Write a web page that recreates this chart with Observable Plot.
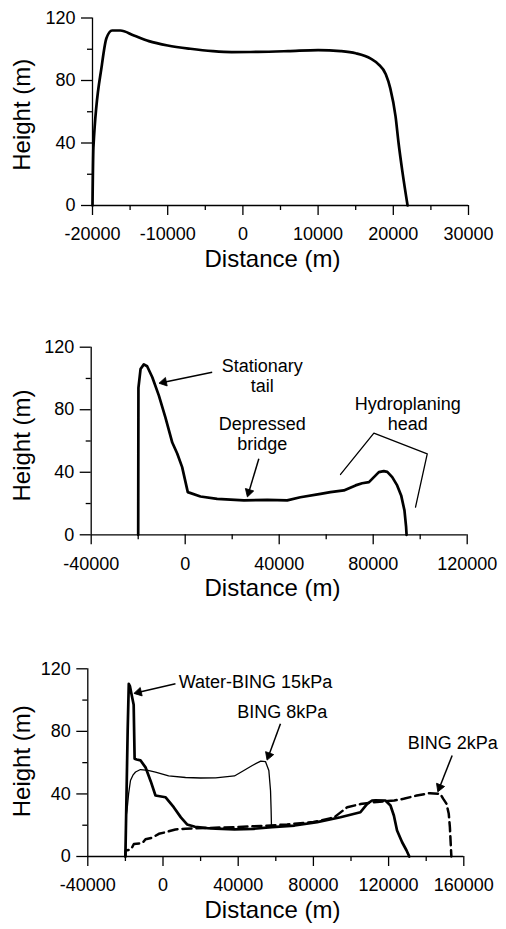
<!DOCTYPE html>
<html>
<head>
<meta charset="utf-8">
<script src="https://cdn.jsdelivr.net/npm/d3@7"></script>
<script src="https://cdn.jsdelivr.net/npm/@observablehq/plot@0.6"></script>
<style>
  html, body { margin: 0; padding: 0; background: #fff; }
  #chart svg { display: block; }
</style>
</head>
<body>
<div id="chart"></div>
<script>
// ---------- Axis labels / ticks ----------
const xTitle = "Distance (m)";
const yTitle = "Height (m)";
const yMajor = [0, 40, 80, 120];
const yMinor = [20, 60, 100];

const p1XMajor = [-20000, -10000, 0, 10000, 20000, 30000];
const p1XMinor = [-15000, -5000, 5000, 15000, 25000];
const p2XMajor = [-40000, 0, 40000, 80000, 120000];
const p2XMinor = [-20000, 20000, 60000, 100000];
const p3XMajor = [-40000, 0, 40000, 80000, 120000, 160000];
const p3XMinor = [-20000, 20000, 60000, 100000, 140000];

// ---------- Panel 1 profile ----------
const p1Dist = [-20000, -19880, -18750, -18150, -17400, -16300, -14500, -12500, -10000, -7000, -4000, -1500, 2000, 6000, 10000, 13000, 15000, 17000, 18000, 19000, 19600, 20300, 20700, 21200, 21900];
const p1Height = [0, 37, 90, 107, 112, 112, 108.8, 105.2, 102.4, 100.3, 98.8, 98.2, 98.3, 98.8, 99.5, 98.8, 97.4, 94, 90.5, 84, 75, 57, 40, 22, 0];

// ---------- Panel 2 profile ----------
const p2Dist = [-20000, -19900, -19000, -17600, -16200, -14000, -11200, -8400, -5500, -3400, -1300, 1100, 6500, 13600, 25000, 34900, 43400, 49000, 57600, 61800, 67500, 72500, 75300, 78200, 80300, 82400, 84500, 86000, 88100, 90200, 91900, 93300, 94000, 94200];
const p2Height = [0, 94, 106, 109, 107.8, 100.8, 89, 75, 59, 52, 43.3, 27.3, 24.5, 23, 22, 22.4, 22, 24, 26.2, 27.3, 28.4, 31.6, 33, 33.7, 36.9, 40.1, 40.7, 40.3, 36.9, 31.6, 25.2, 15.6, 5, 0];

// Panel 2 annotations
const p2Labels = ["Stationary\ntail", "Depressed\nbridge", "Hydroplaning\nhead"];
const p2LabelX = [32770, 32770, 94730];
const p2LabelY = [102, 64.8, 77.6];
const p2ArrowX1 = [11490, 31330];
const p2ArrowY1 = [104, 48.6];
const p2ArrowX2 = [-9080, 27070];
const p2ArrowY2 = [97.6, 27.3];
const p2BracketX = [66100, 80290, 103000, 98010];
const p2BracketY = [38.6, 65.0, 51.8, 17.7];

// ---------- Panel 3 profiles ----------
const waterBingDist = [-20000, -19400, -18800, -18200, -17600, -16800, -15600, -15100, -14000, -12000, -9300, -6500, -4000, 1300, 5700, 9500, 12800, 17000, 23500, 28000, 38000, 48000, 58000, 70000, 82000, 94400, 105000, 108600, 111200, 113000, 118300, 121000, 122800, 124500, 127200, 129500, 131000];
const waterBingHeight = [0, 40, 80, 110.4, 109, 104, 97, 62.5, 62, 61.5, 57, 48, 39, 37.9, 31.5, 25, 20.5, 19, 18.1, 17.8, 17.4, 17.7, 18.8, 19.8, 22, 25.1, 28.3, 33.7, 35.8, 35.9, 35.8, 32.6, 26.2, 16.6, 9.1, 4, 0];

const bing8Dist = [-20000, -19700, -19100, -18300, -17300, -16000, -14600, -12000, -8000, -4000, 3000, 12000, 20000, 28000, 38000, 43000, 47500, 52000, 54500, 56300, 57200, 57500, 57700];
const bing8Height = [0, 25, 30, 40, 48.6, 52, 54, 55.6, 55, 53.9, 51.5, 50.5, 50.2, 50.3, 51.5, 55, 58.2, 61, 60.7, 55, 42, 30, 19];

const bing2Dist = [-20000, -19900, -17000, -15500, -11000, -9300, -5800, -2200, 1300, 6600, 12000, 23000, 38000, 52000, 66000, 80000, 91000, 98000, 105000, 112000, 123000, 128000, 135000, 142000, 147500, 149000, 150800, 152000, 152600, 153300, 153400];
const bing2Height = [0, 3.8, 4.5, 8, 8.5, 11, 12, 14.5, 15.5, 17.3, 17.8, 18.2, 18.8, 19.5, 20.5, 22, 25, 31.5, 33.5, 34.7, 35.8, 36.9, 39, 40.5, 40.1, 37, 33.7, 27.3, 18.7, 2, 0];

// Panel 3 annotations
const p3Labels = ["Water-BING 15kPa", "BING 8kPa", "BING 2kPa"];
const p3LabelX = [8390, 39450, 130210];
const p3LabelY = [111.5, 92.3, 72.1];
const p3ArrowX1 = [6630, 62480, 153810];
const p3ArrowY1 = [110.4, 84.9, 64.6];
const p3ArrowX2 = [-12890, 56260, 147150];
const p3ArrowY2 = [105, 64.6, 44.3];

// ---------- helpers ----------
const zip = (xs, ys) => xs.map((x, i) => ({x, y: ys[i]}));
const FONT = "'Liberation Sans', Arial, Helvetica, sans-serif";
const W = 506;

function axes(xMajor, xMinor, xDomain, titleDx, yTitleDx, yTitleDy) {
  return [
    Plot.ruleY([0], {stroke: "black", strokeWidth: 1.3}),
    Plot.ruleX([xDomain[0]], {stroke: "black", strokeWidth: 1.3}),
    Plot.axisX({ticks: xMajor, tickSize: 10, tickPadding: 12, tickFormat: d => String(d), fontSize: 18, label: null, strokeWidth: 1.3}),
    Plot.axisX({ticks: xMinor, tickSize: 5, tickFormat: () => "", label: null, strokeWidth: 1.3}),
    Plot.axisY({ticks: yMajor, tickSize: 11, tickPadding: 6, tickFormat: d => String(d), fontSize: 18, label: null, strokeWidth: 1.3}),
    Plot.axisY({ticks: yMinor, tickSize: 5, tickFormat: () => "", label: null, strokeWidth: 1.3}),
    Plot.text([xTitle], {text: d => d, frameAnchor: "bottom", textAnchor: "middle", dy: 61, dx: titleDx, fontSize: 24}),
    Plot.text([yTitle], {text: d => d, frameAnchor: "left", textAnchor: "middle", rotate: -90, dx: yTitleDx, dy: yTitleDy, fontSize: 24})
  ];
}

// Arrow marks: shaft via link, filled triangular head via rotated dot
function arrows(x1s, y1s, x2s, y2s, xDomain, m, height) {
  const sx = d3.scaleLinear(xDomain, [m.left, W - m.right]);
  const sy = d3.scaleLinear([0, 120], [height - m.bottom, m.top]);
  const data = x1s.map((x1, i) => {
    const dx = sx(x2s[i]) - sx(x1), dy = sy(y2s[i]) - sy(y1s[i]);
    const len = Math.hypot(dx, dy);
    const ang = Math.atan2(dx / len, -dy / len) * 180 / Math.PI;
    return {x1, y1: y1s[i], x2: x2s[i], y2: y2s[i], ang};
  });
  return [
    Plot.link(data, {x1: "x1", y1: "y1", x2: "x2", y2: "y2", stroke: "black", strokeWidth: 1.5}),
    Plot.dot(data, {x: "x2", y: "y2", symbol: "triangle", r: 3.2, fill: "black", stroke: "black", strokeWidth: 0.8, rotate: "ang"})
  ];
}

const chart = document.getElementById("chart");

// Panel 1
chart.append(Plot.plot({
  width: W, height: 290,
  marginLeft: 92, marginRight: 38, marginTop: 17.5, marginBottom: 85,
  style: {fontFamily: FONT, color: "black", background: "white", overflow: "visible"},
  x: {domain: [-20000, 30000]},
  y: {domain: [0, 120]},
  marks: [
    ...axes(p1XMajor, p1XMinor, [-20000, 30000], -8, -70, 3),
    Plot.line(zip(p1Dist, p1Height), {x: "x", y: "y", stroke: "black", strokeWidth: 2.7, curve: "monotone-x"})
  ]
}));

// Panel 2
const m2 = {left: 90.7, right: 39.3, top: 56.7, bottom: 75.7};
chart.append(Plot.plot({
  width: W, height: 320,
  marginLeft: m2.left, marginRight: m2.right, marginTop: m2.top, marginBottom: m2.bottom,
  style: {fontFamily: FONT, color: "black", background: "white", overflow: "visible"},
  x: {domain: [-40000, 120000]},
  y: {domain: [0, 120]},
  marks: [
    ...axes(p2XMajor, p2XMinor, [-40000, 120000], -6.7, -69, 4.5),
    Plot.line(zip(p2Dist, p2Height), {x: "x", y: "y", stroke: "black", strokeWidth: 2.7, curve: "linear"}),
    Plot.text(p2Labels.map((t, i) => ({t, x: p2LabelX[i], y: p2LabelY[i]})), {x: "x", y: "y", text: "t", fontSize: 18, lineHeight: 1.12}),
    ...arrows(p2ArrowX1, p2ArrowY1, p2ArrowX2, p2ArrowY2, [-40000, 120000], m2, 320),
    Plot.line(zip(p2BracketX, p2BracketY), {x: "x", y: "y", stroke: "black", strokeWidth: 1.3})
  ]
}));

// Panel 3
const m3 = {left: 87.3, right: 42.7, top: 58.3, bottom: 73};
chart.append(Plot.plot({
  width: W, height: 319,
  marginLeft: m3.left, marginRight: m3.right, marginTop: m3.top, marginBottom: m3.bottom,
  style: {fontFamily: FONT, color: "black", background: "white", overflow: "visible"},
  x: {domain: [-40000, 160000]},
  y: {domain: [0, 120]},
  marks: [
    ...axes(p3XMajor, p3XMinor, [-40000, 160000], -3.3, -65.6, -1.4),
    Plot.line(zip(bing2Dist, bing2Height), {x: "x", y: "y", stroke: "black", strokeWidth: 2.5, strokeDasharray: "9,5"}),
    Plot.line(zip(bing8Dist, bing8Height), {x: "x", y: "y", stroke: "black", strokeWidth: 1.3}),
    Plot.line(zip(waterBingDist, waterBingHeight), {x: "x", y: "y", stroke: "black", strokeWidth: 2.7}),
    Plot.text(p3Labels.map((t, i) => ({t, x: p3LabelX[i], y: p3LabelY[i]})), {x: "x", y: "y", text: "t", fontSize: 18, textAnchor: "start"}),
    ...arrows(p3ArrowX1, p3ArrowY1, p3ArrowX2, p3ArrowY2, [-40000, 160000], m3, 319)
  ]
}));
</script>
</body>
</html>
